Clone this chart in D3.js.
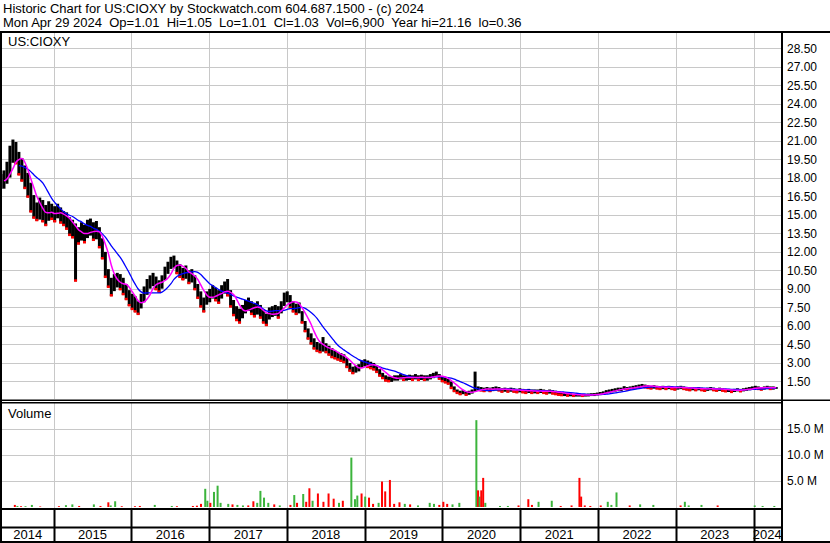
<!DOCTYPE html>
<html lang="en">
<head>
<meta charset="UTF-8">
<title>US:CIOXY</title>
<script src="https://d3js.org/d3.v7.min.js"></script>
<style>
body{margin:0;background:#fff;}
svg{display:block;}
text{font-family:'Liberation Sans', Arial, sans-serif;fill:#000;}
</style>
</head>
<body>
<svg id="chart" width="830" height="543"></svg>
<script>
const title1 = 'Historic Chart for US:CIOXY by Stockwatch.com 604.687.1500 - (c) 2024';
const title2 = 'Mon Apr 29 2024  Op=1.01  Hi=1.05  Lo=1.01  Cl=1.03  Vol=6,900  Year hi=21.16  lo=0.36';
const symbol = 'US:CIOXY';

// two-week bars from start date
const startDate = '2014-04-29', endDate = '2024-04-29', barDays = 14;
const closes = [
17.6,17.9,18.2,19.5,20.5,20.2,19.0,18.6,18.0,17.5,
16.5,15.5,15.0,15.5,15.2,14.8,15.3,15.2,15.0,15.3,
15.0,14.8,14.5,14.0,13.8,13.5,13.2,13.6,13.3,13.8,
14.0,13.5,13.8,13.0,12.0,10.8,9.8,9.0,9.5,9.8,
9.6,9.2,8.8,8.3,8.0,7.8,7.3,8.0,8.6,9.2,
9.6,9.8,9.5,9.2,9.6,10.3,10.8,11.2,11.4,10.8,
10.5,10.2,10.4,10.0,10.1,9.5,8.8,8.2,7.8,8.3,
8.5,8.8,8.6,8.4,8.8,9.2,9.0,8.2,7.5,7.0,
6.8,7.2,7.6,7.8,7.5,7.3,7.5,7.2,6.8,6.5,
7.0,7.2,7.3,7.1,7.5,8.2,8.5,8.0,7.6,7.4,
7.5,6.8,6.0,5.4,5.0,4.6,4.3,4.2,4.4,4.2,
4.0,3.8,3.7,3.6,3.5,3.4,3.0,2.6,2.4,2.5,
2.6,2.9,3.0,2.9,2.8,2.7,2.5,2.2,2.0,1.8,
1.7,1.7,1.8,1.8,1.9,1.8,1.8,1.85,1.8,1.9,
1.8,1.85,1.8,1.8,1.9,2.0,2.1,1.9,1.7,1.6,
1.5,1.2,0.9,0.7,0.6,0.65,0.55,0.6,0.7,0.9,
0.95,0.9,0.85,0.9,0.85,0.9,0.95,0.9,0.8,0.85,
0.8,0.85,0.8,0.75,0.8,0.75,0.7,0.75,0.7,0.72,
0.7,0.75,0.7,0.65,0.7,0.65,0.6,0.55,0.5,0.5,
0.45,0.45,0.4,0.4,0.4,0.38,0.4,0.42,0.45,0.45,
0.5,0.55,0.6,0.7,0.75,0.8,0.85,0.9,0.9,1.0,
0.95,1.0,1.05,1.1,1.15,1.2,1.15,1.1,1.05,1.1,
1.05,1.0,1.05,1.0,1.05,1.0,0.95,1.0,1.05,1.0,
0.95,0.9,0.95,0.9,0.95,0.9,0.85,0.9,0.95,0.9,
0.85,0.9,0.85,0.8,0.8,0.75,0.8,0.85,0.8,0.85,
0.9,0.95,1.0,1.05,1.0,0.95,1.0,1.05,1.0,1.0,
1.03];
const highs = [
18.3,18.6,19.3,20.6,21.1,20.9,20.1,19.6,19.0,18.4,
17.6,16.6,16.0,16.4,16.2,15.8,16.1,15.9,15.7,15.9,
15.6,15.3,15.2,14.8,14.6,14.3,14.0,14.4,14.2,14.6,
14.7,14.4,14.5,14.0,13.1,12.0,10.6,9.9,10.2,10.3,
10.2,9.9,9.4,8.9,8.6,8.4,8.0,8.6,9.2,9.8,
10.1,10.3,10.0,9.7,10.1,10.8,11.2,11.6,11.7,11.3,
11.0,10.7,10.9,10.5,10.6,10.1,9.4,8.8,8.3,8.8,
9.0,9.3,9.1,8.9,9.3,9.6,9.8,8.9,8.1,7.6,
7.4,7.7,8.1,8.3,8.0,7.8,8.0,7.7,7.3,7.0,
7.5,7.6,7.7,7.6,8.0,8.7,8.8,8.5,8.0,7.8,
7.9,7.2,6.4,5.8,5.4,5.0,4.7,4.6,5.1,4.6,
4.4,4.2,4.0,3.9,3.8,3.7,3.4,3.0,2.7,2.8,
2.9,3.2,3.3,3.2,3.1,3.0,2.8,2.5,2.2,2.0,
1.9,1.9,2.0,2.0,2.1,2.0,2.0,2.05,2.0,2.1,
2.0,2.05,2.0,2.0,2.1,2.2,2.3,2.1,1.9,1.8,
1.7,1.5,1.1,0.85,0.75,0.8,0.7,0.75,0.85,2.3,
1.1,1.05,1.0,1.05,1.0,1.05,1.1,1.05,0.95,1.0,
0.95,1.0,0.95,0.9,0.95,0.9,0.85,0.9,0.85,0.85,
0.85,0.9,0.85,0.8,0.85,0.8,0.75,0.7,0.65,0.62,
0.55,0.55,0.5,0.5,0.5,0.48,0.5,0.52,0.55,0.56,
0.6,0.65,0.7,0.8,0.85,0.9,0.95,1.0,1.0,1.12,
1.05,1.1,1.15,1.2,1.25,1.3,1.25,1.2,1.15,1.2,
1.15,1.1,1.15,1.1,1.15,1.1,1.05,1.1,1.15,1.1,
1.05,1.0,1.05,1.0,1.05,1.0,0.95,1.0,1.05,1.0,
0.95,1.0,0.95,0.9,0.9,0.85,0.9,0.95,0.9,0.95,
1.0,1.05,1.1,1.15,1.1,1.05,1.1,1.15,1.1,1.1,
1.05];
const lows = [
17.2,17.2,17.6,18.1,19.3,19.2,18.3,17.8,17.2,16.5,
15.3,14.8,14.6,14.7,14.5,14.2,14.6,14.7,14.5,14.8,
14.4,14.2,13.9,13.4,13.2,9.7,12.7,13.0,12.8,13.2,
13.4,13.0,13.1,12.4,11.5,10.0,9.2,8.5,8.9,9.2,
9.0,8.6,8.2,7.7,7.4,7.2,7.0,7.5,8.0,8.6,
9.1,9.3,9.0,8.8,9.1,9.8,10.3,10.7,10.8,10.3,
10.0,9.8,9.9,9.5,9.6,9.0,8.3,7.6,7.2,7.8,
8.0,8.3,8.1,7.9,8.3,8.7,8.5,7.6,6.9,6.5,
6.3,6.7,7.1,7.3,7.0,6.8,7.0,6.7,6.3,6.1,
6.6,6.8,6.9,6.7,7.1,7.7,8.0,7.5,7.2,7.0,
7.1,6.3,5.6,5.0,4.6,4.2,4.0,3.9,4.0,3.9,
3.7,3.5,3.4,3.3,3.2,3.1,2.7,2.4,2.2,2.3,
2.4,2.7,2.8,2.7,2.6,2.5,2.3,2.0,1.8,1.6,
1.55,1.55,1.65,1.65,1.75,1.65,1.65,1.7,1.65,1.75,
1.65,1.7,1.65,1.65,1.75,1.85,1.95,1.75,1.55,1.45,
1.35,1.0,0.75,0.6,0.5,0.55,0.45,0.5,0.6,0.75,
0.85,0.8,0.75,0.8,0.75,0.8,0.85,0.8,0.7,0.75,
0.7,0.75,0.7,0.65,0.7,0.65,0.6,0.65,0.6,0.62,
0.6,0.65,0.6,0.55,0.6,0.55,0.5,0.45,0.42,0.4,
0.38,0.38,0.36,0.36,0.36,0.36,0.36,0.37,0.4,0.4,
0.45,0.48,0.52,0.6,0.66,0.7,0.76,0.8,0.8,0.9,
0.88,0.92,0.96,1.0,1.05,1.1,1.05,1.0,0.96,1.0,
0.96,0.92,0.96,0.92,0.96,0.92,0.87,0.92,0.96,0.92,
0.87,0.82,0.87,0.82,0.87,0.82,0.77,0.82,0.87,0.82,
0.78,0.82,0.78,0.73,0.73,0.68,0.73,0.78,0.73,0.78,
0.82,0.87,0.92,0.96,0.92,0.87,0.92,0.96,0.92,0.92,
0.98];

// volume spikes (millions), up = green, down = red
const volDates = [
'2014-07-03','2014-07-15','2014-08-01','2014-08-22','2014-09-21','2014-10-30',
'2015-01-26','2015-02-28','2015-03-30','2015-05-01','2015-07-09','2015-08-09','2015-09-15','2015-09-26','2015-10-17','2015-11-17',
'2016-01-18','2016-02-10','2016-04-20','2016-07-09','2016-08-02','2016-10-16','2016-11-04','2016-11-23','2016-12-13','2016-12-23',
'2017-01-06','2017-01-23','2017-02-09','2017-02-23','2017-03-31','2017-04-20','2017-05-13','2017-06-08','2017-07-03','2017-07-27',
'2017-08-14','2017-08-29','2017-09-15','2017-10-05','2017-11-02','2017-11-28',
'2018-01-17','2018-02-04','2018-02-17','2018-03-18','2018-04-01','2018-04-16','2018-05-01','2018-05-26','2018-06-21','2018-07-15',
'2018-08-08','2018-09-02','2018-09-20','2018-10-30','2018-11-16','2018-11-27','2018-12-17',
'2019-01-03','2019-01-21','2019-02-09','2019-03-07','2019-03-23','2019-04-07','2019-04-29','2019-05-19','2019-06-13','2019-07-08',
'2019-08-02','2019-09-08','2019-11-02','2019-11-22','2019-12-17',
'2020-01-05','2020-01-23','2020-02-17','2020-03-20','2020-06-08','2020-06-16','2020-06-23','2020-07-01','2020-07-10','2020-07-20',
'2020-09-27','2020-11-03','2020-12-23',
'2021-02-07','2021-02-24','2021-03-27','2021-05-28','2021-07-09','2021-08-29','2021-10-05','2021-10-13','2021-10-30','2021-11-25',
'2022-01-13','2022-02-15','2022-03-04','2022-03-28','2022-05-29','2022-07-17','2022-09-17',
'2023-01-23','2023-02-12','2023-03-02','2023-05-01','2023-07-16',
'2024-01-06','2024-02-12','2024-04-07'];
const volValues = [
0.4,0.2,0.15,0.15,0.4,0.1,
0.15,0.35,0.5,0.2,0.5,0.2,0.9,0.3,1.1,0.15,
0.15,0.2,0.4,0.2,0.15,0.2,0.25,0.6,3.5,1.2,
0.8,2.9,4.1,0.8,0.6,0.5,0.4,0.3,0.3,1.1,
0.8,3.1,1.8,0.8,0.5,0.3,
0.4,2.3,0.8,2.5,1.0,3.6,1.2,2.6,1.0,2.6,
1.6,0.8,1.2,9.5,1.5,2.2,2.6,
2.0,1.8,0.6,0.8,4.9,3.0,5.2,0.6,0.9,0.6,
0.5,0.3,0.8,0.6,0.4,
1.0,0.6,0.5,0.8,16.7,3.2,2.0,3.2,5.6,0.8,
0.2,0.2,0.3,
1.5,0.4,1.0,1.2,0.2,0.3,5.6,2.0,0.3,0.2,
0.3,1.0,0.4,2.8,0.3,0.5,0.4,
0.3,1.0,0.3,0.4,0.3,
0.3,0.2,0.2];
const volUp = [
0,1,0,1,1,0,
0,1,1,0,1,0,0,1,1,0,
0,0,1,1,0,0,0,0,1,1,
0,1,1,1,1,0,1,1,0,0,
1,1,1,1,0,1,
0,1,0,1,0,0,1,0,0,0,
0,1,0,1,1,1,0,
1,0,0,1,0,0,0,0,0,1,
0,1,1,1,0,
0,0,1,1,1,0,1,0,0,1,
1,1,0,
0,0,1,1,0,0,0,0,0,0,
0,1,1,1,0,1,1,
0,1,1,1,0,
1,1,1];

const priceTicks = [1.5,3,4.5,6,7.5,9,10.5,12,13.5,15,16.5,18,19.5,21,22.5,24,25.5,27,28.5];
const volTicks = [5,10,15];
const years = [2014,2015,2016,2017,2018,2019,2020,2021,2022,2023,2024];

// layout
const left = 2, right = 781, width = 830, height = 543;
const priceTop = 33, priceBottom = 399, volTop = 403, volBottom = 508, axisMid = 527;

const svg = d3.select('#chart');
const parse = d3.timeParse('%Y-%m-%d');
const t0 = parse(startDate), t1 = parse(endDate);

const x = d3.scaleTime().domain([t0, t1]).range([1, 779]);
const y = d3.scaleLinear().domain([0, 28.5]).range([400, 48.2]);
const yv = d3.scaleLinear().domain([0, 15]).range([507, 429]);

const bars = closes.map((c, i) => ({
  date: d3.timeDay.offset(t0, i * barDays),
  close: c, high: highs[i], low: lows[i],
  down: i > 0 && c < closes[i - 1]
}));

function movingAvg(n, from) {
  return bars.map((d, i) => ({date: d.date, value: d3.mean(closes.slice(Math.max(0, i - n + 1), i + 1))}))
    .filter((d, i) => i >= from);
}

svg.append('rect').attr('width', width).attr('height', height).attr('fill', '#fff');

// header
svg.append('text').attr('x', 3).attr('y', 13).style('font-size', '13px').style('white-space', 'pre').text(title1);
svg.append('text').attr('x', 3).attr('y', 27).style('font-size', '13px').style('white-space', 'pre').text(title2);

// grid
const yearTicks = years.slice(1).map(yr => new Date(yr, 0, 1));
const grid = svg.append('g').attr('stroke', '#c8c8c8').attr('stroke-width', 1);
grid.selectAll('.hg').data(priceTicks).enter().append('line')
  .attr('x1', left).attr('x2', right)
  .attr('y1', d => Math.round(y(d)) + 0.5).attr('y2', d => Math.round(y(d)) + 0.5);
grid.selectAll('.vg').data(volTicks).enter().append('line')
  .attr('x1', left).attr('x2', right)
  .attr('y1', d => Math.round(yv(d)) + 0.5).attr('y2', d => Math.round(yv(d)) + 0.5);
grid.selectAll('.xg').data(yearTicks).enter().append('line')
  .attr('x1', d => Math.round(x(d)) + 0.5).attr('x2', d => Math.round(x(d)) + 0.5)
  .attr('y1', priceTop).attr('y2', priceBottom);
grid.selectAll('.xg2').data(yearTicks).enter().append('line')
  .attr('x1', d => Math.round(x(d)) + 0.5).attr('x2', d => Math.round(x(d)) + 0.5)
  .attr('y1', volTop).attr('y2', volBottom);

svg.append('text').attr('x', 8).attr('y', 46).style('font-size', '13px').text(symbol);
svg.append('text').attr('x', 8).attr('y', 418).style('font-size', '13px').text('Volume');

// price bars
const pg = svg.append('g');
pg.selectAll('.bar').data(bars).enter().append('line')
  .attr('x1', d => x(d.date)).attr('x2', d => x(d.date))
  .attr('y1', d => y(d.high)).attr('y2', d => y(d.low) + 1)
  .attr('stroke', '#000').attr('stroke-width', 3);
pg.selectAll('.tick').data(bars.filter(d => d.down)).enter().append('rect')
  .attr('x', d => x(d.date) - 1.5).attr('y', d => y(d.low) - 1)
  .attr('width', 3).attr('height', 2.5).attr('fill', '#ff0000');

// moving averages
const line = d3.line().x(d => x(d.date)).y(d => y(d.value)).curve(d3.curveMonotoneX);
svg.append('path').datum(movingAvg(12, 6)).attr('d', line)
  .attr('fill', 'none').attr('stroke', '#0000ff').attr('stroke-width', 1.3);
svg.append('path').datum(movingAvg(5, 1)).attr('d', line)
  .attr('fill', 'none').attr('stroke', '#ff00ff').attr('stroke-width', 1.5);

// volume
const vols = volDates.map((d, i) => ({date: parse(d), value: volValues[i], up: volUp[i]}));
svg.append('g').selectAll('rect').data(vols).enter().append('rect')
  .attr('x', d => x(d.date) - 1).attr('width', 2)
  .attr('y', d => yv(d.value)).attr('height', d => yv(0) - yv(d.value))
  .attr('fill', d => d.up ? '#3cb43c' : '#ff0000');

// axes labels
const ya = svg.append('g').attr('transform', `translate(${right + 1},0)`)
  .call(d3.axisRight(y).tickValues(priceTicks).tickFormat(d3.format('.2f')).tickSize(0).tickPadding(5));
const va = svg.append('g').attr('transform', `translate(${right + 1},0)`)
  .call(d3.axisRight(yv).tickValues(volTicks).tickFormat(d => d3.format('.1f')(d) + ' M').tickSize(0).tickPadding(5));
[ya, va].forEach(a => {
  a.select('.domain').remove();
  a.selectAll('text').style('font-size', '12px').attr('fill', '#000');
  a.attr('font-family', null);
});

// frame
const frame = svg.append('g').attr('fill', '#000');
frame.append('rect').attr('x', 0).attr('y', 31).attr('width', width).attr('height', 2);
frame.append('rect').attr('x', 0).attr('y', 31).attr('width', 2).attr('height', height - 31);
frame.append('rect').attr('x', right).attr('y', 31).attr('width', 2).attr('height', height - 31);
frame.append('rect').attr('x', 0).attr('y', 399.5).attr('width', width).attr('height', 1.5);
frame.append('rect').attr('x', 0).attr('y', 402).attr('width', right).attr('height', 1.5);
frame.append('rect').attr('x', 0).attr('y', volBottom).attr('width', right).attr('height', 2);
frame.append('rect').attr('x', 0).attr('y', axisMid - 0.5).attr('width', right).attr('height', 2);
frame.append('rect').attr('x', 0).attr('y', height - 2).attr('width', width).attr('height', 2);
frame.selectAll('.sep').data(yearTicks).enter().append('rect')
  .attr('x', d => Math.round(x(d)) - 0.5).attr('y', volBottom).attr('width', 2).attr('height', height - volBottom);

// year labels centred in their spans
svg.append('g').selectAll('text').data(years).enter().append('text')
  .attr('x', yr => {
    const a = Math.max(x(new Date(yr, 0, 1)), left);
    const b = Math.min(x(new Date(yr + 1, 0, 1)), right);
    return (a + b) / 2;
  })
  .attr('y', 539).attr('text-anchor', 'middle').style('font-size', '13px')
  .text(d => d);
</script>
</body>
</html>
